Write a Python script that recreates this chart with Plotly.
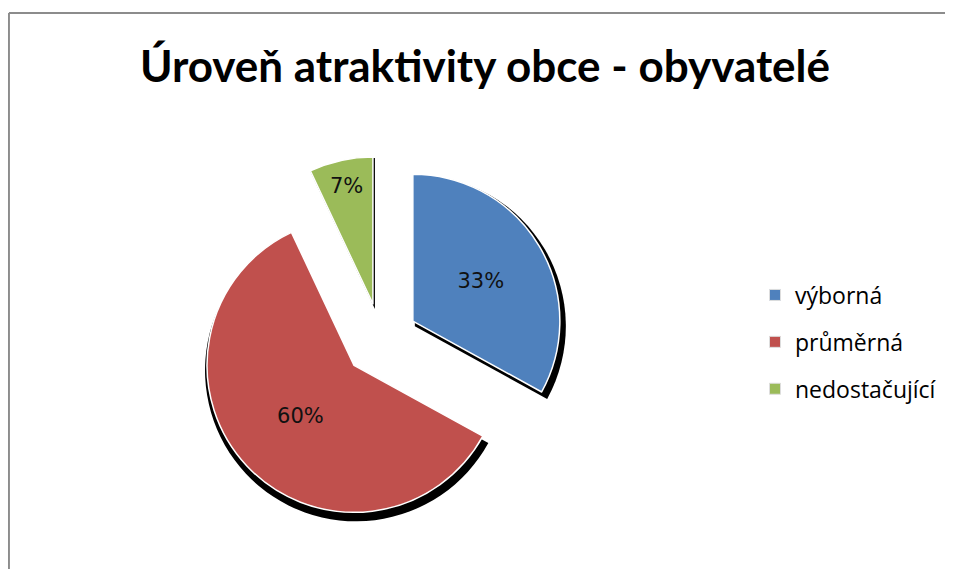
import plotly.graph_objects as go

# the page body adds an 8px margin round the figure; keep it inside the window
OFF = 8
W, H = 953 - 2 * OFF, 577 - 2 * OFF

labels = ["výborná", "průměrná", "nedostačující"]
values = [33, 60, 7]
colors = ["#4F81BD", "#C0504D", "#9BBB59"]

TITLE = "Úroveň atraktivity obce - obyvatelé"

# pie geometry in screen pixels
CX, CY = 381, 340
R = 147
PULL_PX = 37


def px_x(x):
    return (x - OFF) / W


def px_y(y):
    return 1 - (y - OFF) / H


def pie_domain(cx, cy, r, pull_px):
    half = r + pull_px
    return {
        "x": [px_x(cx - half), px_x(cx + half)],
        "y": [px_y(cy + half), px_y(cy - half)],
    }, pull_px / r


fig = go.Figure()

# dark drop shadow behind the slices
dom_s, pull_s = pie_domain(CX + 2, CY + 5, R + 4, PULL_PX)
fig.add_trace(
    go.Pie(
        labels=labels,
        values=values,
        sort=False,
        direction="clockwise",
        rotation=0,
        pull=pull_s,
        domain=dom_s,
        marker={"colors": ["#000000"] * 3, "line": {"width": 0}},
        textinfo="none",
        hoverinfo="skip",
        showlegend=False,
    )
)

dom, pull = pie_domain(CX, CY, R, PULL_PX)
fig.add_trace(
    go.Pie(
        labels=labels,
        values=values,
        sort=False,
        direction="clockwise",
        rotation=0,
        pull=pull,
        domain=dom,
        marker={"colors": colors, "line": {"color": "white", "width": 1.5}},
        texttemplate="%{value}%",
        textposition="inside",
        insidetextorientation="horizontal",
        textfont={"family": "DejaVu Sans, sans-serif", "size": 21, "color": "#111111"},
        showlegend=False,
    )
)

# legend entries
for i, (lab, col) in enumerate(zip(labels, colors)):
    fig.add_trace(
        go.Scatter(
            x=[None],
            y=[None],
            mode="markers",
            name=lab,
            legendgroup=f"g{i}",
            marker={"symbol": "square", "size": 11, "color": col, "line": {"color": "#dddddd", "width": 1}},
        )
    )

frame = {"type": "line", "xref": "paper", "yref": "paper", "line": {"color": "#8c8c8c", "width": 2}}

fig.update_layout(
    width=W,
    height=H,
    paper_bgcolor="white",
    plot_bgcolor="white",
    margin={"l": 0, "r": 0, "t": 0, "b": 0},
    title={
        "text": f"<b>{TITLE}</b>",
        "x": px_x(485),
        "xanchor": "center",
        "y": px_y(67),
        "yanchor": "middle",
        "font": {"family": "Lato, sans-serif", "size": 44, "color": "black"},
    },
    legend={
        "x": px_x(755),
        "xanchor": "left",
        "y": px_y(342),
        "yanchor": "middle",
        "font": {"family": "Open Sans, sans-serif", "size": 23, "color": "black"},
        "tracegroupgap": 14,
        "itemwidth": 30,
        "bgcolor": "rgba(0,0,0,0)",
    },
    xaxis={"visible": False},
    yaxis={"visible": False},
    shapes=[
        dict(frame, x0=0.001, x1=1, y0=px_y(13), y1=px_y(13)),
        dict(frame, x0=0.001, x1=0.001, y0=0, y1=px_y(13)),
    ],
)

fig.write_html("out.html")
